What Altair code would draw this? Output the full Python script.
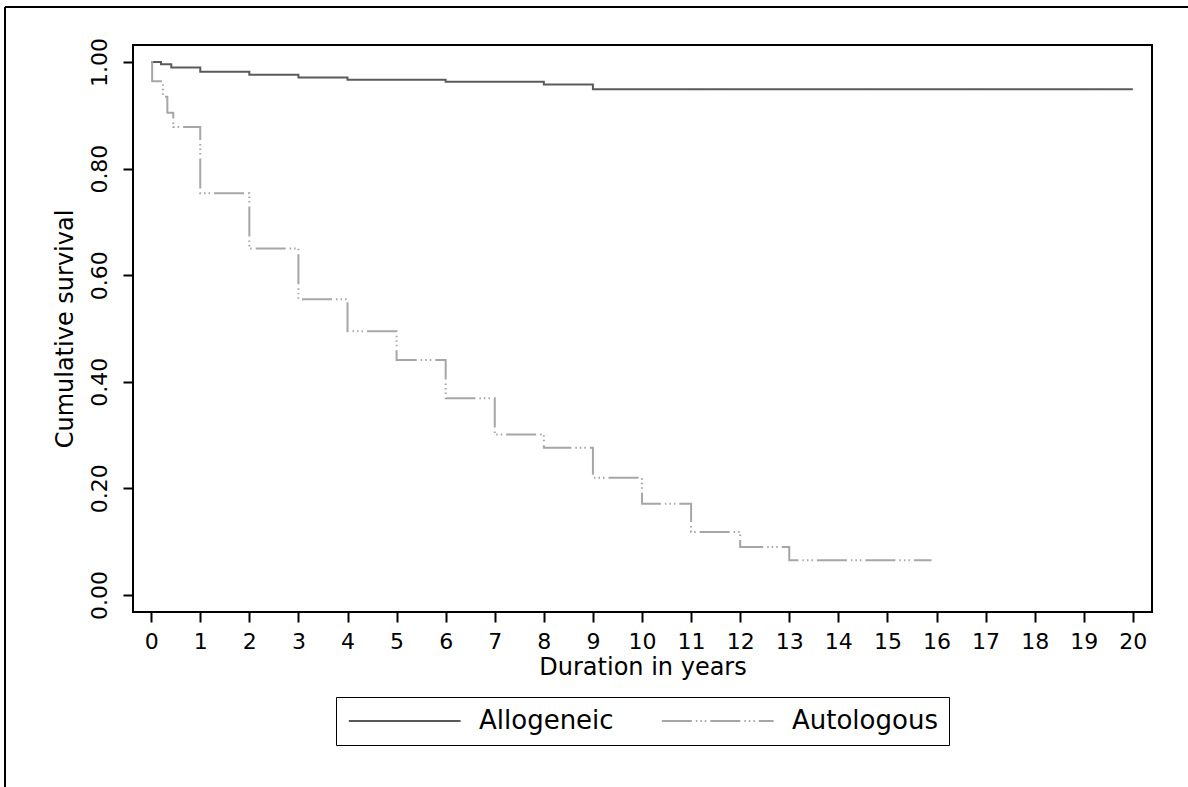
import altair as alt
import pandas as pd

groups = ["Allogeneic", "Autologous"]

allo_t = [0.0, 0.2, 0.41, 1.0, 2.0, 3.0, 4.0, 6.0, 8.0, 9.0, 20.0]
allo_s = [1.0, 0.996, 0.990, 0.982, 0.976, 0.971, 0.967, 0.963, 0.958, 0.949, 0.949]

auto_t = [0.0, 0.02, 0.24, 0.33, 0.45, 1.0, 2.0, 3.0, 4.0, 5.0, 6.0, 7.0, 8.0, 9.0, 10.0, 11.0, 12.0, 13.0, 15.9]
auto_s = [1.0, 0.964, 0.935, 0.905, 0.878, 0.754, 0.650, 0.555, 0.495, 0.441, 0.369, 0.301, 0.276, 0.220, 0.171, 0.118, 0.090, 0.065, 0.065]

x_ticks = list(range(0, 21))
y_ticks = [0.0, 0.2, 0.4, 0.6, 0.8, 1.0]

df = pd.concat([
    pd.DataFrame({"t": allo_t, "s": allo_s, "group": groups[0]}),
    pd.DataFrame({"t": auto_t, "s": auto_s, "group": groups[1]}),
])

FONT = "DejaVu Sans"

def make_legend():
    return alt.Legend(
        title=None,
        orient="none",
        legendX=203,
        legendY=652,
        direction="horizontal",
        symbolType="M-1,0H9",
        symbolSize=500,
        symbolStrokeWidth=2,
        labelOffset=106,
        columnPadding=43,
        padding=11,
        labelFont=FONT,
        labelFontSize=26,
        labelColor="black",
        strokeColor="black",
        fillColor="white",
        cornerRadius=0,
    )

lines = alt.Chart(df).mark_line(interpolate="step-after", strokeWidth=2).encode(
    x=alt.X("t:Q",
            scale=alt.Scale(domain=[-0.37, 20.39], nice=False, zero=False),
            axis=alt.Axis(values=x_ticks, title="Duration in years", format="d",
                          labelFontSize=22, titleFontSize=24, labelPadding=9,
                          titlePadding=3)),
    y=alt.Y("s:Q",
            scale=alt.Scale(domain=[-0.032, 1.032], nice=False, zero=False),
            axis=alt.Axis(values=y_ticks, title="Cumulative survival", format=".2f",
                          labelAngle=270, labelFontSize=22, titleFontSize=24,
                          labelPadding=12, titlePadding=11)),
    color=alt.Color("group:N",
                    scale=alt.Scale(domain=groups, range=["#5a5a5a", "#a6a6a6"]),
                    legend=make_legend()),
    strokeDash=alt.StrokeDash("group:N",
                              scale=alt.Scale(domain=groups,
                                              range=[[1, 0], [30, 4, 1.5, 3, 1.5, 3, 1.5, 4]]),
                              legend=make_legend()),
)

border = pd.DataFrame({"k": [0]})
top_rule = alt.Chart(border).mark_rule(color="black", strokeWidth=2).encode(
    x=alt.value(-128), x2=alt.value(1060), y=alt.value(-38))
left_rule = alt.Chart(border).mark_rule(color="black", strokeWidth=2).encode(
    x=alt.value(-128), y=alt.value(-38), y2=alt.value(745))

chart = alt.layer(lines, top_rule, left_rule).properties(
    width=1019,
    height=567,
    autosize=alt.AutoSizeParams(type="none"),
    padding={"left": 133, "top": 45, "right": 36, "bottom": 175},
    background="white",
).configure_view(
    stroke="black", strokeWidth=2
).configure_axis(
    grid=False,
    domain=False,
    ticks=True,
    tickSize=10,
    tickWidth=2,
    tickColor="black",
    labelColor="black",
    titleColor="black",
    labelFont=FONT,
    titleFont=FONT,
    titleFontWeight="normal",
)

chart.save("out.html", embed_options={"renderer": "svg", "actions": False})
